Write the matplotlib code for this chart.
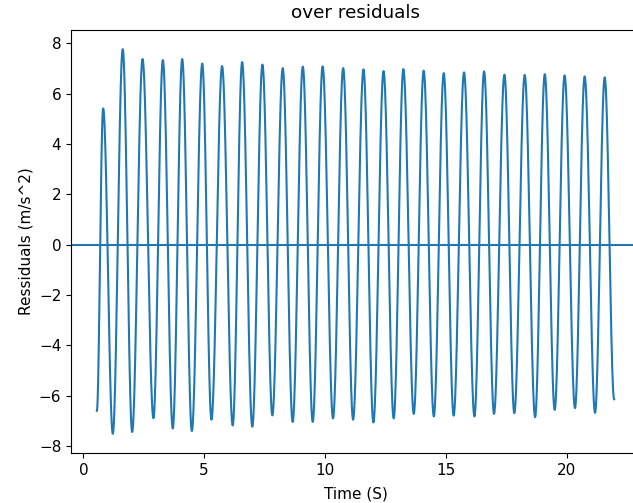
import numpy as np
import matplotlib

matplotlib.use("Agg")
import matplotlib.pyplot as plt

# Extrema of the residual signal (time in s, value in m/s^2)
start_t, start_v = 0.56, -6.6
end_t, end_v = 21.96, -6.14

peak_t = [0.82, 1.63, 2.45, 3.29, 4.09, 4.92, 5.74, 6.57, 7.41, 8.25, 9.08, 9.90,
          10.75, 11.59, 12.42, 13.24, 14.08, 14.91, 15.75, 16.58, 17.42, 18.26,
          19.09, 19.91, 20.74, 21.57]
peak_v = [5.41, 7.76, 7.37, 7.33, 7.37, 7.19, 7.09, 7.25, 7.15, 7.01, 7.07, 7.08,
          7.01, 6.96, 6.89, 6.97, 6.91, 6.81, 6.84, 6.88, 6.75, 6.74, 6.77, 6.72,
          6.68, 6.64]

trough_t = [1.22, 2.02, 2.90, 3.70, 4.49, 5.30, 6.18, 6.99, 7.82, 8.66, 9.49, 10.33,
            11.16, 12.00, 12.84, 13.67, 14.50, 15.32, 16.18, 16.99, 17.83, 18.69,
            19.50, 20.34, 21.17]
trough_v = [-7.51, -7.44, -6.89, -7.30, -7.40, -6.95, -7.18, -7.23, -6.78, -7.04,
            -7.04, -6.90, -6.95, -7.06, -6.90, -6.72, -6.82, -6.79, -6.82, -6.72,
            -6.69, -6.85, -6.56, -6.49, -6.68]

# alternate knots: start, peak, trough, peak, ..., peak, end
knot_t = [start_t]
knot_v = [start_v]
for i in range(len(peak_t)):
    knot_t.append(peak_t[i])
    knot_v.append(peak_v[i])
    if i < len(trough_t):
        knot_t.append(trough_t[i])
        knot_v.append(trough_v[i])
knot_t.append(end_t)
knot_v.append(end_v)

# smooth half-cosine between successive extrema
t_all, v_all = [], []
for k in range(len(knot_t) - 1):
    s = np.linspace(0, 1, 40, endpoint=False)
    w = (1 - np.cos(np.pi * s)) / 2
    t_all.extend(knot_t[k] + (knot_t[k + 1] - knot_t[k]) * s)
    v_all.extend(knot_v[k] + (knot_v[k + 1] - knot_v[k]) * w)
t_all.append(knot_t[-1])
v_all.append(knot_v[-1])

plt.rcParams["font.size"] = 11

fig = plt.figure(figsize=(6.33, 5.03), dpi=100)
ax = fig.add_axes([71 / 633, 1 - 453 / 503, (640 - 71) / 633, (453 - 30) / 503])
ax.plot(t_all, v_all, color="C0")
ax.axhline(0, color="C0")
ax.set_title("over residuals", pad=9)
ax.set_xlabel("Time (S)", labelpad=6)
ax.set_ylabel("Ressiduals (m/s^2)")

fig.savefig("out.png", dpi=100)
